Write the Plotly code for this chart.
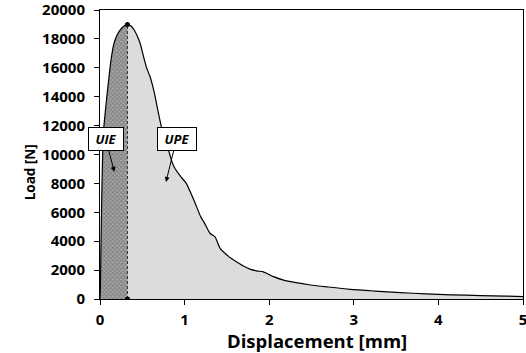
import numpy as np
import plotly.graph_objects as go

# Load-displacement curve
displacement = [0.0, 0.005, 0.008, 0.02, 0.04, 0.06, 0.079, 0.107, 0.13, 0.166, 0.20,
                0.237, 0.28, 0.325, 0.37, 0.406, 0.44, 0.474, 0.525, 0.553, 0.592,
                0.644, 0.683, 0.73, 0.77, 0.81, 0.85, 0.88, 0.95, 1.02, 1.12, 1.19,
                1.24, 1.30, 1.36, 1.42, 1.53, 1.58, 1.69, 1.78, 1.85, 1.93, 1.97,
                2.05, 2.17, 2.30, 2.49, 2.70, 2.96, 3.25, 3.55, 3.85, 4.15, 4.50,
                4.80, 5.00]
load = [0, 800, 2240, 6850, 11490, 12800, 13900, 15380, 16540, 17700, 18250,
        18600, 18880, 19000, 18880, 18600, 18200, 17700, 16540, 15960, 15380,
        14230, 13080, 11800, 11000, 10300, 9500, 9100, 8500, 8000, 6700, 5700,
        5200, 4550, 4300, 3500, 2900, 2700, 2300, 2050, 1950, 1880, 1780,
        1550, 1310, 1150, 970, 830, 670, 550, 440, 360, 290, 240,
        200, 170]

x_ticks = [0, 1, 2, 3, 4, 5]
y_ticks = list(range(0, 20001, 2000))

x_title = "Displacement [mm]"
y_title = "Load [N]"

# annotation labels: (text, arrow head x, y, box centre x, y)
labels = ["UIE", "UPE"]
label_head_x = [0.17, 0.78]
label_head_y = [8800, 8100]
label_box_x = [0.065, 0.906]
label_box_y = [11100, 11100]
label_box_w = [30, 34]  # style: inner width of each label box in px

x = np.array(displacement)
y = np.array(load)
ip = int(np.argmax(y))
xp, yp = x[ip], y[ip]

FONT = "Open Sans"

fig = go.Figure()

# plastic (light grey) region
fig.add_trace(go.Scatter(x=x[ip:], y=y[ip:], mode="lines",
                         line=dict(width=0, shape="spline", smoothing=0.6),
                         fill="tozeroy", fillcolor="#dcdcdc", hoverinfo="skip",
                         showlegend=False))
# elastic (hatched) region
fig.add_trace(go.Scatter(x=x[:ip + 1], y=y[:ip + 1], mode="lines",
                         line=dict(width=0, shape="spline", smoothing=0.6),
                         fill="tozeroy", fillcolor="#9a9a9a",
                         fillpattern=dict(shape="x", size=3, solidity=0.5,
                                          fgcolor="#555555", bgcolor="#a8a8a8"),
                         hoverinfo="skip", showlegend=False))
# curve
fig.add_trace(go.Scatter(x=x, y=y, mode="lines",
                         line=dict(color="black", width=1.2, shape="spline", smoothing=0.6),
                         showlegend=False))
# dashed peak line
fig.add_trace(go.Scatter(x=[xp, xp], y=[0, yp], mode="lines+markers",
                         line=dict(color="#333333", width=1, dash="3px,2px"),
                         marker=dict(color="black", size=5),
                         showlegend=False))

for t, hx, hy, bx, by, bw in zip(labels, label_head_x, label_head_y, label_box_x,
                                 label_box_y, label_box_w):
    fig.add_annotation(x=hx, y=hy, ax=bx, ay=by, axref="x", ayref="y", xref="x", yref="y",
                       text="<b><i>%s</i></b>" % t, showarrow=True,
                       arrowhead=2, arrowsize=1, arrowwidth=1, arrowcolor="black",
                       font=dict(family=FONT, size=13, color="black"),
                       width=bw, height=18, align="center",
                       bgcolor="white", bordercolor="black", borderwidth=1, borderpad=2)

# axis titles
fig.add_annotation(xref="paper", yref="paper", x=0.514, y=-0.145, xanchor="center",
                   yanchor="middle", showarrow=False, text="<b>%s</b>" % x_title,
                   font=dict(family=FONT, size=18.5, color="black"))
fig.add_annotation(xref="paper", yref="paper", x=-0.165, y=0.439, xanchor="center",
                   yanchor="middle", showarrow=False, text="<b>%s</b>" % y_title,
                   textangle=-90, font=dict(family=FONT, size=13.5, color="black"))

axis_common = dict(showline=True, linecolor="black", linewidth=1, mirror=True,
                   showgrid=False, zeroline=False, ticks="outside", ticklen=5,
                   tickcolor="black", tickwidth=1, ticklabeloverflow="allow",
                   automargin=False,
                   tickfont=dict(family=FONT, size=15, color="black", weight="bold"))

fig.update_xaxes(range=[0, 5], tickvals=x_ticks, ticktext=[str(v) for v in x_ticks],
                 ticklabelstandoff=2, **axis_common)
fig.update_yaxes(range=[0, 20000], tickvals=y_ticks, ticktext=[str(v) for v in y_ticks],
                 ticklabelstandoff=6, **axis_common)

fig.update_layout(width=526, height=353, margin=dict(l=100, r=3, t=10, b=54),
                  plot_bgcolor="white", paper_bgcolor="white", showlegend=False)

fig.write_html("out.html")
